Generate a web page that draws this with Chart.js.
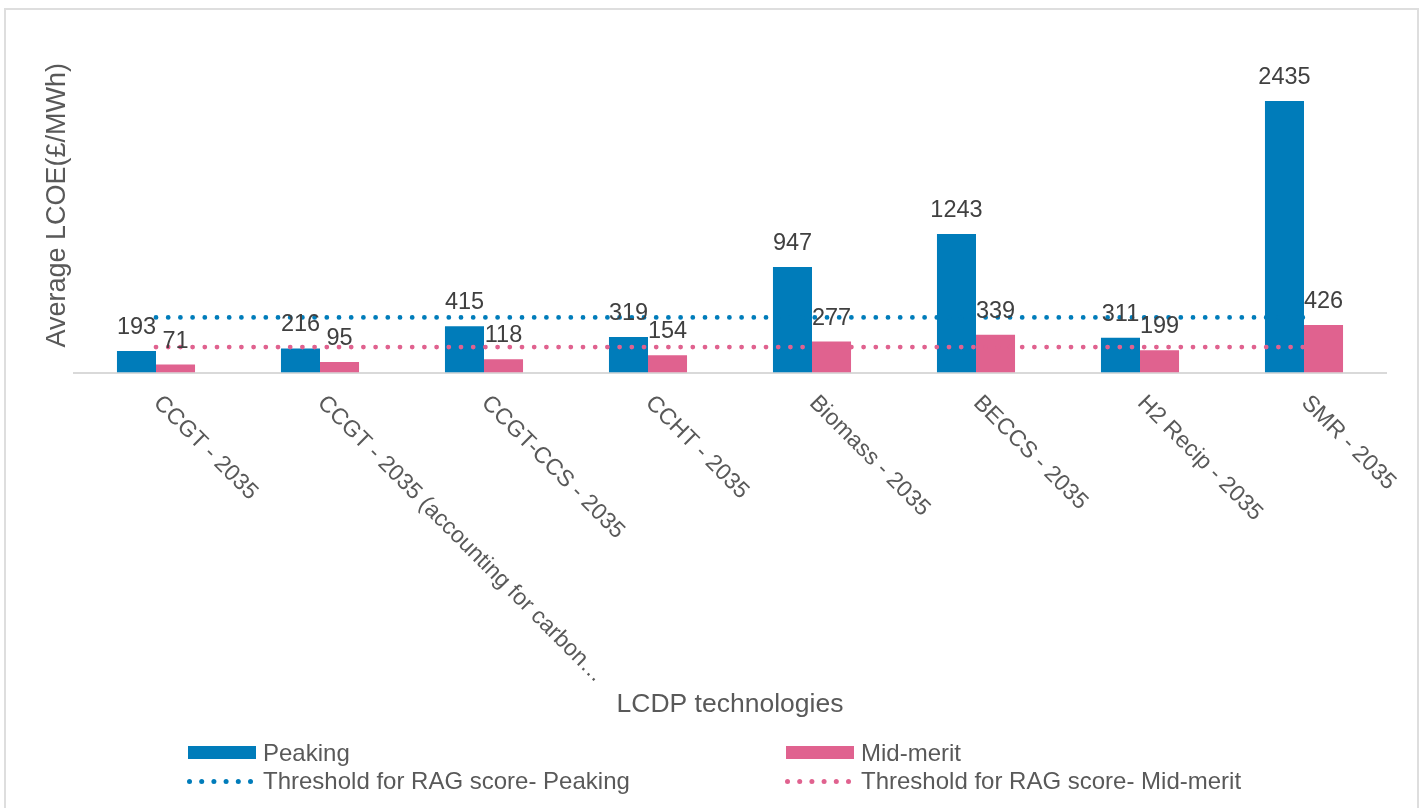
<!DOCTYPE html>
<html>
<head>
<meta charset="utf-8">
<title>Average LCOE by LCDP technology</title>
<script src="https://cdn.jsdelivr.net/npm/chart.js@4.4.0/dist/chart.umd.min.js"></script>
<style>
  html, body { margin: 0; padding: 0; background: #fff; overflow: hidden; }
  #wrap { position: relative; width: 1423px; height: 808px; }
  #wrap canvas { position: absolute; left: 0; top: 0; }
  #frame {
    position: absolute; left: 4px; top: 8px; width: 1415px; height: 840px;
    box-sizing: border-box; border: 2px solid #dedede; pointer-events: none;
  }
</style>
</head>
<body>
<div id="wrap">
  <canvas id="lcoeChart" width="1423" height="808"></canvas>
  <div id="frame"></div>
</div>
<script>
const categories = [
  'CCGT - 2035',
  'CCGT - 2035 (accounting for carbon…',
  'CCGT-CCS - 2035',
  'CCHT - 2035',
  'Biomass - 2035',
  'BECCS - 2035',
  'H2 Recip - 2035',
  'SMR - 2035'
];
const peaking = [193, 216, 415, 319, 947, 1243, 311, 2435];
const midMerit = [71, 95, 118, 154, 277, 339, 199, 426];
const thresholdPeaking = 494;
const thresholdMidMerit = 228;

const BLUE = '#007CBA';
const PINK = '#E0628F';
const FONT = '"Liberation Sans", Arial, sans-serif';
const TEXT = '#595959';

// value above each bar
const barValueLabels = {
    id: 'barValueLabels',
    afterDatasetsDraw(chart) {
        const ctx = chart.ctx;
        ctx.save();
        ctx.font = '23.5px ' + FONT;
        ctx.fillStyle = '#404040';
        ctx.textAlign = 'center';
        ctx.textBaseline = 'alphabetic';
        chart.data.datasets.forEach((ds, i) => {
            if (ds.type !== 'bar') return;
            chart.getDatasetMeta(i).data.forEach((bar, j) => {
                ctx.fillText(String(ds.data[j]), bar.x, bar.y - 17);
            });
        });
        ctx.restore();
    }
};

// category names slanted down to the right, starting under each tick
const slantedTicks = {
    id: 'slantedTicks',
    afterDraw(chart) {
        const x = chart.scales.x;
        const ctx = chart.ctx;
        ctx.save();
        ctx.font = '23px ' + FONT;
        ctx.fillStyle = TEXT;
        ctx.textAlign = 'left';
        ctx.textBaseline = 'middle';
        chart.data.labels.forEach((label, i) => {
            ctx.save();
            ctx.translate(x.getPixelForValue(i) + 1, x.top + 27);
            ctx.rotate(Math.PI / 4);
            ctx.fillText(label, 0, 0);
            ctx.restore();
        });
        ctx.restore();
    }
};

// two-column legend under the axis title
const gridLegend = {
    id: 'gridLegend',
    afterDraw(chart) {
        const ctx = chart.ctx;
        const sets = chart.data.datasets;
        const byLabel = l => sets.find(d => d.label === l);
        const items = [
            { ds: byLabel('Peaking'), x: 188, y: 761 },
            { ds: byLabel('Mid-merit'), x: 786, y: 761 },
            { ds: byLabel('Threshold for RAG score- Peaking'), x: 188, y: 788.5 },
            { ds: byLabel('Threshold for RAG score- Mid-merit'), x: 786, y: 788.5 }
        ];
        ctx.save();
        ctx.font = '24px ' + FONT;
        ctx.textAlign = 'left';
        ctx.textBaseline = 'alphabetic';
        items.forEach(it => {
            if (it.ds.type === 'bar') {
                ctx.fillStyle = it.ds.backgroundColor;
                ctx.fillRect(it.x, it.y - 15, 68, 13);
            } else {
                ctx.fillStyle = it.ds.borderColor;
                for (let k = 0; k < 6; k++) {
                    ctx.beginPath();
                    ctx.arc(it.x + 1.5 + k * 12.2, it.y - 7, 2.5, 0, Math.PI * 2);
                    ctx.fill();
                }
            }
            ctx.fillStyle = TEXT;
            ctx.fillText(it.ds.label, it.x + 75, it.y);
        });
        ctx.restore();
    }
};

new Chart(document.getElementById('lcoeChart'), {
    type: 'bar',
    data: {
        labels: categories,
        datasets: [
            {
                type: 'line',
                label: 'Threshold for RAG score- Peaking',
                data: categories.map(() => thresholdPeaking),
                borderColor: BLUE,
                borderWidth: 4.8,
                borderDash: [0, 12.2],
                borderCapStyle: 'round',
                pointRadius: 0,
                fill: false,
                order: 0
            },
            {
                type: 'line',
                label: 'Threshold for RAG score- Mid-merit',
                data: categories.map(() => thresholdMidMerit),
                borderColor: PINK,
                borderWidth: 4.8,
                borderDash: [0, 12.2],
                borderCapStyle: 'round',
                pointRadius: 0,
                fill: false,
                order: 0
            },
            {
                type: 'bar',
                label: 'Peaking',
                data: peaking,
                backgroundColor: BLUE,
                categoryPercentage: 0.476,
                barPercentage: 1,
                order: 1
            },
            {
                type: 'bar',
                label: 'Mid-merit',
                data: midMerit,
                backgroundColor: PINK,
                categoryPercentage: 0.476,
                barPercentage: 1,
                order: 1
            }
        ]
    },
    options: {
        responsive: false,
        animation: false,
        devicePixelRatio: 1,
        layout: { padding: { top: 38, right: 37, bottom: 80, left: 0 } },
        plugins: {
            legend: { display: false },
            tooltip: { enabled: false }
        },
        scales: {
            x: {
                ticks: { display: false },
                grid: { display: false, drawTicks: false },
                border: { display: true, color: '#d9d9d9', width: 2 },
                title: {
                    display: true,
                    text: 'LCDP technologies',
                    color: TEXT,
                    font: { family: FONT, size: 26.5 },
                    padding: { top: 0, bottom: 7 }
                },
                afterFit: s => { s.height = 355.5; }
            },
            y: {
                min: 0,
                max: 3000,
                ticks: { display: false },
                grid: { display: false, drawTicks: false },
                border: { display: false },
                title: {
                    display: true,
                    text: 'Average LCOE(£/MWh)',
                    color: TEXT,
                    font: { family: FONT, size: 27 },
                    padding: { top: 41, bottom: 0 }
                },
                afterFit: s => { s.width = 74; }
            }
        }
    },
    plugins: [barValueLabels, slantedTicks, gridLegend]
});
</script>
</body>
</html>
